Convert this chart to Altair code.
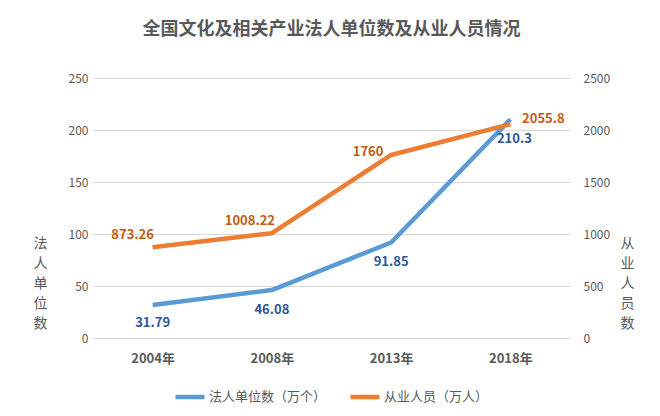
import altair as alt
import pandas as pd

years = ["2004年", "2008年", "2013年", "2018年"]
units = [31.79, 46.08, 91.85, 210.3]          # 法人单位数（万个）
workers = [873.26, 1008.22, 1760, 2055.8]      # 从业人员（万人）
series_names = ["法人单位数（万个）", "从业人员（万人）"]
series_colors = ["#5B9BD5", "#ED7D31"]

df_u = pd.DataFrame({"year": years, "value": units, "series": series_names[0]})
df_w = pd.DataFrame({"year": years, "value": workers, "series": series_names[1]})

FONT = "Noto Sans CJK SC"
GRAY = "#595959"

x_enc = alt.X("year:N", sort=years,
              scale=alt.Scale(paddingInner=0, paddingOuter=0.5),
              axis=alt.Axis(title=None, labelAngle=0, labelFontWeight="bold",
                            labelFontSize=13, labelColor=GRAY, labelFont=FONT,
                            labelPadding=14, domain=False, ticks=False, grid=False))

color_enc = alt.Color("series:N",
                      scale=alt.Scale(domain=series_names, range=series_colors),
                      legend=alt.Legend(title=None, orient="none", direction="horizontal",
                                        legendX=80, legendY=302,
                                        symbolType="stroke", symbolStrokeWidth=4.5,
                                        symbolSize=841, labelFontSize=13, labelColor=GRAY,
                                        labelFont=FONT, columnPadding=14, labelOffset=2))

y_left = alt.Y("value:Q", scale=alt.Scale(domain=[0, 250]),
               axis=alt.Axis(title=list("法人单位数"), titleAngle=0, titleX=-53, titleY=158,
                             titleBaseline="top", titleAlign="center", titleLineHeight=20,
                             titleFontSize=14, titleFontWeight="normal", titleColor=GRAY,
                             titleFont=FONT, format="d",
                             values=[0, 50, 100, 150, 200, 250], labelFontSize=12,
                             labelColor=GRAY, labelFont=FONT, labelPadding=5,
                             domain=False, ticks=False, grid=True, gridColor="#D9D9D9"))

y_right = alt.Y("value:Q", scale=alt.Scale(domain=[0, 2500]),
                axis=alt.Axis(orient="right", title=list("从业人员数"), titleAngle=0,
                              titleX=57, titleY=158, titleBaseline="top", titleAlign="center",
                              titleLineHeight=20, titleFontSize=14, titleFontWeight="normal",
                              titleColor=GRAY, titleFont=FONT, format="d",
                              values=[0, 500, 1000, 1500, 2000, 2500], labelFontSize=12,
                              labelColor=GRAY, labelFont=FONT, labelPadding=13,
                              domain=False, ticks=False, grid=False))

line_u = alt.Chart(df_u).mark_line(strokeWidth=4.5, strokeJoin="round").encode(
    x=x_enc, y=y_left, color=color_enc)
line_w = alt.Chart(df_w).mark_line(strokeWidth=4.5, strokeJoin="round").encode(
    x=x_enc, y=y_right, color=color_enc)

# label offsets (style only)
u_off = {"2004年": (0, 18), "2008年": (0, 20), "2013年": (0, 20), "2018年": (4, 20)}
w_off = {"2004年": (-20, -12), "2008年": (-22, -12), "2013年": (-23, -3), "2018年": (33, -5)}

def labels(df, offs, y_enc, color):
    layers = []
    for yr, (dx, dy) in offs.items():
        layers.append(
            alt.Chart(df).transform_filter(alt.datum.year == yr).mark_text(
                dx=dx, dy=dy, fontSize=13, fontWeight="bold", font=FONT, color=color,
                align="center", baseline="middle"
            ).encode(x=x_enc, y=y_enc, text=alt.Text("value:Q"))
        )
    return layers

lab_u = labels(df_u, u_off, y_left, "#2F5597")
lab_w = labels(df_w, w_off, y_right, "#C55A11")

left = alt.layer(line_u, *lab_u)
right = alt.layer(line_w, *lab_w)

chart = alt.layer(left, right).resolve_scale(y="independent").properties(
    width=477, height=260,
    title=alt.TitleParams("全国文化及相关产业法人单位数及从业人员情况", fontSize=18,
                          fontWeight="bold", color=GRAY, font=FONT, anchor="middle",
                          offset=33),
    autosize=alt.AutoSizeParams(type="none"),
    padding={"left": 85, "top": 70, "right": 82, "bottom": 70},
    background="white",
).configure_view(stroke=None)

chart.save("out.html", embed_options={"renderer": "svg", "actions": False})
